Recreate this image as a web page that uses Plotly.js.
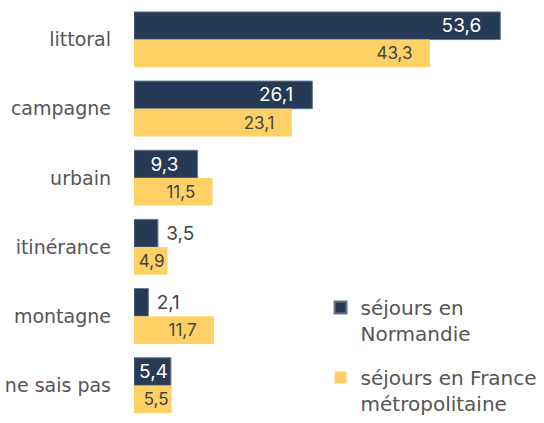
<!DOCTYPE html>
<html><head><meta charset="utf-8">
<script src="https://cdn.plot.ly/plotly-3.0.1.min.js"></script>
<style>html,body{margin:0;padding:0;background:#fff;}#chart{width:544px;height:423px;}</style>
</head><body><div id="chart"></div>
<script>
const categories = ['littoral','campagne','urbain','itinérance','montagne','ne sais pas'];
const normandie = [53.6, 26.1, 9.3, 3.5, 2.1, 5.4];
const france = [43.3, 23.1, 11.5, 4.9, 11.7, 5.5];
const seriesNames = ['séjours en<br>Normandie','séjours en France<br>métropolitaine'];
const normPos = ['inside','inside','inside','outside','outside','inside'];
const NB = '\u00a0';
const fmt = v => v.toFixed(1).replace('.', ',');
const labelInside = v => fmt(v) + (v > 8 ? NB + NB + NB : '');
const normText = normandie.map((v, i) => normPos[i] === 'outside' ? NB + fmt(v) : labelInside(v));
const franceText = france.map(labelInside);
const FONT = '"DejaVu Sans", sans-serif';

const traces = [
  {type:'bar', orientation:'h', name:seriesNames[0], legendgroup:'a', y:categories, x:normandie,
   text:normText, textposition:normPos, insidetextanchor:'end', constraintext:'none',
   insidetextfont:{color:'#ffffff', size:19, family:'Inter, sans-serif'},
   outsidetextfont:{color:'#444444', size:19, family:'Inter, sans-serif'},
   marker:{color:'#263a55', line:{color:'#66768a', width:1}}, cliponaxis:false, hoverinfo:'skip'},
  {type:'bar', orientation:'h', name:seriesNames[1], legendgroup:'b', y:categories, x:france,
   text:franceText, textposition:'inside', insidetextanchor:'end', constraintext:'none',
   insidetextfont:{color:'#444444', size:17, family:'Inter, sans-serif'},
   marker:{color:'#fed066'}, cliponaxis:false, hoverinfo:'skip'}
];
const layout = {
  width:544, height:423,
  margin:{l:134, r:0, t:5, b:1},
  paper_bgcolor:'#fff', plot_bgcolor:'#fff',
  barmode:'group', bargap:0.2, bargroupgap:0,
  showlegend:true,
  font:{family:FONT, color:'#555555', size:19},
  xaxis:{range:[0,60], visible:false, showgrid:false, zeroline:false, fixedrange:true},
  yaxis:{autorange:'reversed', showgrid:false, zeroline:false, showline:false, ticks:'',
         ticklabelstandoff:22, tickfont:{size:19, color:'#555555', family:FONT}},
  legend:{x:0.455, y:0.318, xanchor:'left', yanchor:'top', traceorder:'grouped', valign:'top',
          font:{size:20, color:'#555555', family:FONT}, itemsizing:'constant', tracegroupgap:15, bgcolor:'rgba(0,0,0,0)'}
};
Plotly.newPlot('chart', traces, layout, {staticPlot:true, displayModeBar:false});
</script></body></html>
